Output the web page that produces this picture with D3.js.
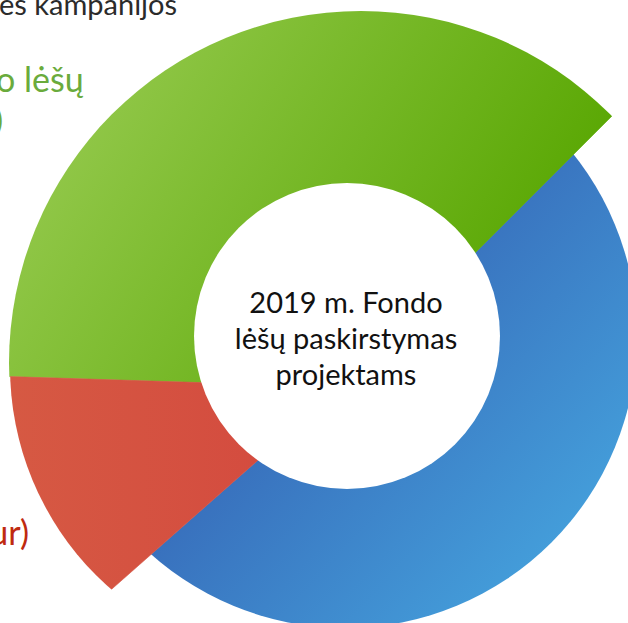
<!DOCTYPE html>
<html>
<head>
<meta charset="utf-8">
<script src="https://cdn.jsdelivr.net/npm/d3@7"></script>
<style>
  html, body { margin: 0; padding: 0; background: #fff; overflow: hidden; }
  svg { display: block; }
</style>
</head>
<body>
<svg id="chart" width="628" height="623"></svg>
<script>
// Slices in drawing order (clockwise from the NE edge)
const sliceKeys = ["blue", "red", "green"];
const sliceValues = [51, 12, 37];

// Label fragments visible in the crop
const centerLines = ["2019 m. Fondo", "lėšų paskirstymas", "projektams"];
const sideLabels = ["es kampanijos", "o lėšų", "eur)", "ur)"];

const width = 628;
const height = 623;

const svg = d3.select("#chart");
const defs = svg.append("defs");

// common apex of the wedges
const apex = { x: 341, y: 387 };

// each slice has its own outer rim (the shapes are not concentric)
const rim = {
    blue:  { cx: 345, cy: 336, r: 292 },
    red:   { cx: 305, cy: 367, r: 295 },
    green: { cx: 361, cy: 363, r: 352 }
};

// gradients given in page space, from the lit corner to the dark one
const fills = {
    blue:  { stops: ["#3667b7", "#47aae2"], from: [300, 300], to: [620, 600] },
    red:   { stops: ["#d65943", "#d44c3f"], from: [10, 480], to: [260, 480] },
    green: { stops: ["#8fc646", "#57a600"], from: [120, 80], to: [520, 330] }
};

const hole = { cx: 347, cy: 336, r: 153 };

sliceKeys.forEach(k => {
    const f = fills[k];
    // the path sits in a group translated to the apex, so shift the gradient back
    const g = defs.append("linearGradient")
        .attr("id", `grad-${k}`)
        .attr("gradientUnits", "userSpaceOnUse")
        .attr("x1", f.from[0] - apex.x).attr("y1", f.from[1] - apex.y)
        .attr("x2", f.to[0] - apex.x).attr("y2", f.to[1] - apex.y);
    g.append("stop").attr("offset", "0%").attr("stop-color", f.stops[0]);
    g.append("stop").attr("offset", "100%").attr("stop-color", f.stops[1]);

    defs.append("clipPath")
        .attr("id", `clip-${k}`)
        .append("circle")
        .attr("cx", rim[k].cx)
        .attr("cy", rim[k].cy)
        .attr("r", rim[k].r);
});

const pie = d3.pie()
    .sort(null)
    .startAngle(Math.PI / 4)
    .endAngle(Math.PI / 4 + 2 * Math.PI);

const arcs = pie(sliceValues);

const wedge = d3.arc()
    .innerRadius(0)
    .outerRadius(900);

// blue first, then green, red on top
const drawOrder = [0, 2, 1];

drawOrder.forEach(i => {
    const k = sliceKeys[i];
    svg.append("g")
        .attr("clip-path", `url(#clip-${k})`)
        .append("g")
        .attr("transform", `translate(${apex.x},${apex.y})`)
        .append("path")
        .attr("d", wedge(arcs[i]))
        .attr("fill", `url(#grad-${k})`)
        .attr("stroke", `url(#grad-${k})`)
        .attr("stroke-width", 0.6);
});

// white centre
svg.append("circle")
    .attr("cx", hole.cx)
    .attr("cy", hole.cy)
    .attr("r", hole.r)
    .attr("fill", "#ffffff");

const fontFamily = "Lato, 'Open Sans', sans-serif";

svg.append("g")
    .selectAll("text")
    .data(centerLines)
    .join("text")
    .attr("x", 346)
    .attr("y", (d, i) => 313 + i * 36)
    .attr("text-anchor", "middle")
    .attr("font-family", fontFamily)
    .attr("font-size", 29)
    .attr("fill", "#111111")
    .text(d => d);

// cut-off labels around the ring
const sideStyle = [
    { x: -1, y: 15, size: 29, color: "#2b2b2b", anchor: "start" },
    { x: -4, y: 92, size: 34, color: "#6aab3c", anchor: "start" },
    { x: 3, y: 131, size: 30, color: "#6aab3c", anchor: "end" },
    { x: 29, y: 545, size: 34, color: "#bf2a10", anchor: "end" }
];

svg.append("g")
    .selectAll("text")
    .data(sideLabels)
    .join("text")
    .attr("x", (d, i) => sideStyle[i].x)
    .attr("y", (d, i) => sideStyle[i].y)
    .attr("text-anchor", (d, i) => sideStyle[i].anchor)
    .attr("font-family", fontFamily)
    .attr("font-size", (d, i) => sideStyle[i].size)
    .attr("fill", (d, i) => sideStyle[i].color)
    .text(d => d);
</script>
</body>
</html>
